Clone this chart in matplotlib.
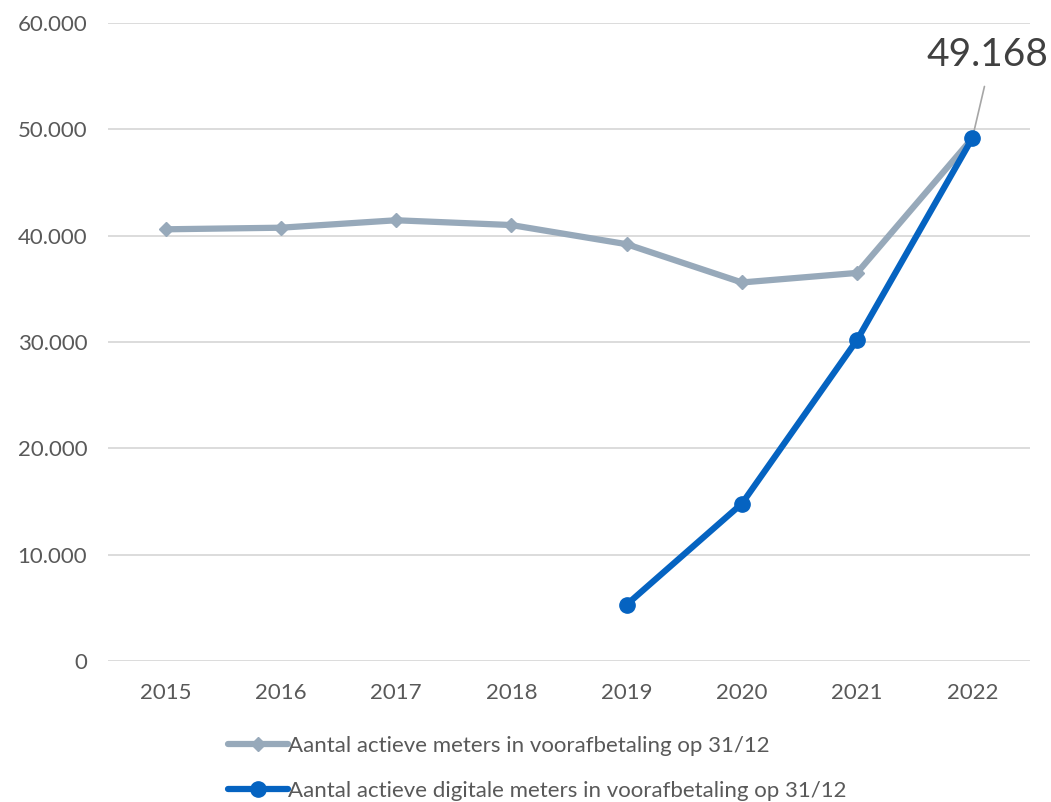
import matplotlib
matplotlib.use("Agg")
import matplotlib.pyplot as plt
from matplotlib.ticker import FuncFormatter

years = ["2015", "2016", "2017", "2018", "2019", "2020", "2021", "2022"]
actieve = [40600, 40750, 41450, 41000, 39200, 35600, 36500, 49168]
digitale_years = ["2019", "2020", "2021", "2022"]
digitale = [5300, 14800, 30200, 49168]

label_actieve = "Aantal actieve meters in voorafbetaling op 31/12"
label_digitale = "Aantal actieve digitale meters in voorafbetaling op 31/12"

GRAY = "#97a9ba"
BLUE = "#0563c1"
TEXT = "#595959"

plt.rcParams["font.family"] = ["Lato", "DejaVu Sans"]

fig = plt.figure(figsize=(10.51, 8.02), dpi=100)
ax = fig.add_axes([0.1028, 0.1758, 0.8772, 0.7955])

x_all = list(range(len(years)))
x_dig = [years.index(y) for y in digitale_years]

ax.plot(x_all, actieve, color=GRAY, lw=4.5, marker="D", markersize=7,
        solid_capstyle="round", label=label_actieve, zorder=3)
ax.plot(x_dig, digitale, color=BLUE, lw=4.5, marker="o", markersize=11,
        solid_capstyle="round", label=label_digitale, zorder=4)

ax.set_xlim(-0.5, len(years) - 0.5)
ax.set_ylim(0, 60000)
ax.set_yticks(range(0, 60001, 10000))
ax.yaxis.set_major_formatter(FuncFormatter(lambda v, p: f"{int(v):,}".replace(",", ".")))
ax.set_xticks(x_all)
ax.set_xticklabels(years)
ax.tick_params(axis="both", length=0, labelsize=16, colors=TEXT)
ax.tick_params(axis="y", pad=15)
ax.tick_params(axis="x", pad=16)
ax.grid(axis="y", color="#d9d9d9", lw=1.3)
ax.set_axisbelow(True)
for s in ax.spines.values():
    s.set_visible(False)

ax.annotate(f"{digitale[-1]:,}".replace(",", "."), xy=(x_dig[-1], digitale[-1]),
            xytext=(11, 60), textcoords="offset points", ha="center", va="center",
            fontsize=28, color="#404040",
            arrowprops=dict(arrowstyle="-", color="#a6a6a6", lw=1.2,
                            relpos=(0.5, 0), shrinkA=8, shrinkB=0))

handles, labels = ax.get_legend_handles_labels()
fig.legend(handles, labels, loc="upper left", bbox_to_anchor=(0.217, 0.082),
           frameon=False, fontsize=16, handlelength=2.7, handletextpad=0.0,
           labelspacing=1.12, labelcolor=TEXT, borderpad=0, borderaxespad=0)

fig.savefig("out.png", dpi=100)
